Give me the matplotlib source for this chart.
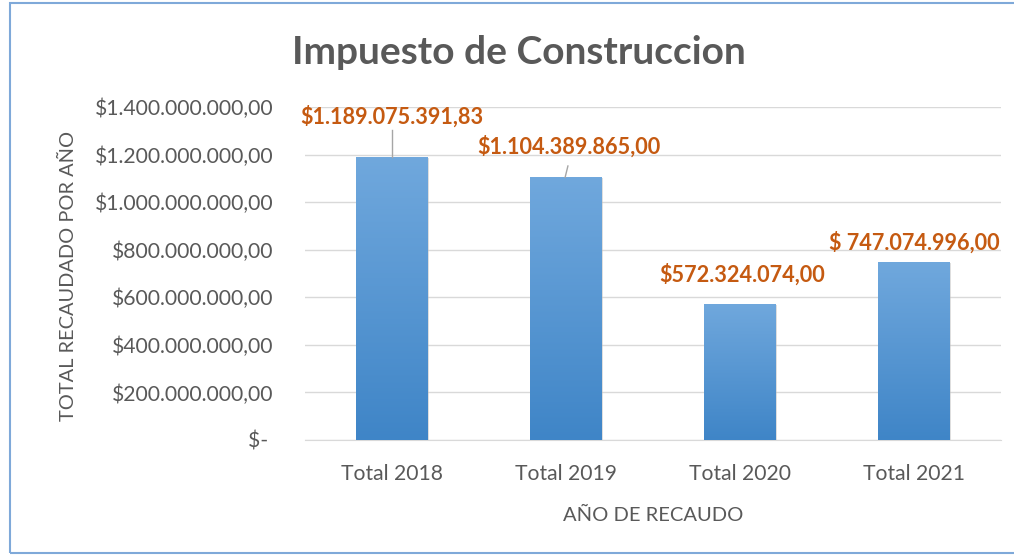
import matplotlib.pyplot as plt
import numpy as np
from matplotlib.patches import Rectangle

# Datos del gráfico
categorias = ['Total 2018', 'Total 2019', 'Total 2020', 'Total 2021']
recaudo = [1189075391.83, 1104389865.00, 572324074.00, 747074996.00]
etiquetas = ['$1.189.075.391,83', '$1.104.389.865,00', '$572.324.074,00', '$ 747.074.996,00']
yticks = [0, 200e6, 400e6, 600e6, 800e6, 1000e6, 1200e6, 1400e6]
ytick_labels = ['$- ', '$200.000.000,00', '$400.000.000,00', '$600.000.000,00',
                '$800.000.000,00', '$1.000.000.000,00', '$1.200.000.000,00',
                '$1.400.000.000,00']

# Posición de las etiquetas (desplazamiento x, altura y) y líneas guía
label_pos = [(0.0, 1.358e9), (0.015, 1.232e9), (0.01, 0.694e9), (0.0, 0.832e9)]
leader = [(0.0, 1.303e9), (0.011, 1.152e9), None, None]

gris = '#595959'
naranja = '#C55A11'
fuente = 'Lato'

fig = plt.figure(figsize=(10.14, 5.56), dpi=100)
ax = fig.add_axes([305 / 1014, 116 / 556, 696 / 1014, 333 / 556])

x = np.arange(len(categorias))
barras = ax.bar(x, recaudo, width=0.41, color='none', edgecolor='none', zorder=3)

# Degradado vertical en cada barra
grad = np.linspace(0, 1, 256).reshape(-1, 1)
cmap = plt.matplotlib.colors.LinearSegmentedColormap.from_list('g', ['#3f85c7', '#70a8dd'])
for b in barras:
    x0, y0 = b.get_x(), b.get_y()
    w, h = b.get_width(), b.get_height()
    sombra = Rectangle((x0 + 0.008, y0), w, h - 4e6, facecolor='#bfbfbf', alpha=0.5,
                       edgecolor='none', zorder=2)
    ax.add_patch(sombra)
    im = ax.imshow(grad, extent=[x0, x0 + w, y0, y0 + h], origin='lower', cmap=cmap,
                   aspect='auto', zorder=3)
    im.set_clip_path(b)

# Etiquetas de datos
for i, (txt, (dx, ly)) in enumerate(zip(etiquetas, label_pos)):
    ax.text(i + dx, ly, txt, ha='center', va='center', color=naranja,
            fontsize=15.6, fontweight='bold', family=fuente, zorder=5)
    if leader[i] is not None:
        lx, lyy = leader[i]
        ax.plot([i + lx, i - 0.005 if lx else i], [lyy, recaudo[i]], color='#a6a6a6',
                lw=1, zorder=4)

ax.set_xlim(-0.5, 3.5)
ax.set_ylim(0, 1.4e9)
ax.set_yticks(yticks)
ax.set_yticklabels(ytick_labels)
ax.set_xticks(x)
ax.set_xticklabels(categorias)
ax.tick_params(axis='both', length=0, labelcolor=gris, labelsize=15.2)
ax.tick_params(axis='y', pad=23)
ax.tick_params(axis='x', pad=17)
for lab in ax.get_xticklabels() + ax.get_yticklabels():
    lab.set_family(fuente)

ax.grid(axis='y', color='#d9d9d9', lw=1, zorder=0)
ax.set_axisbelow(True)
for s in ['top', 'right', 'left']:
    ax.spines[s].set_visible(False)
ax.spines['bottom'].set_color('#d9d9d9')

ax.set_xlabel('AÑO DE RECAUDO', color=gris, fontsize=14.5, family=fuente, labelpad=17)
fig.text(68 / 1014, 1 - 276 / 556, 'TOTAL RECAUDADO POR AÑO', rotation=90, ha='center',
         va='center', color=gris, fontsize=14.4, family=fuente)

fig.text(519 / 1014, 1 - 52 / 556, 'Impuesto de Construccion', ha='center', va='center',
         color=gris, fontsize=28, fontweight='bold', family=fuente)

# Marco del gráfico
fig.patches.append(Rectangle((10 / 1014, 3 / 556), 1.1, 550 / 556, transform=fig.transFigure,
                             fill=False, edgecolor='#7fa9d9', lw=1.5))

plt.savefig('out.png', dpi=100)
